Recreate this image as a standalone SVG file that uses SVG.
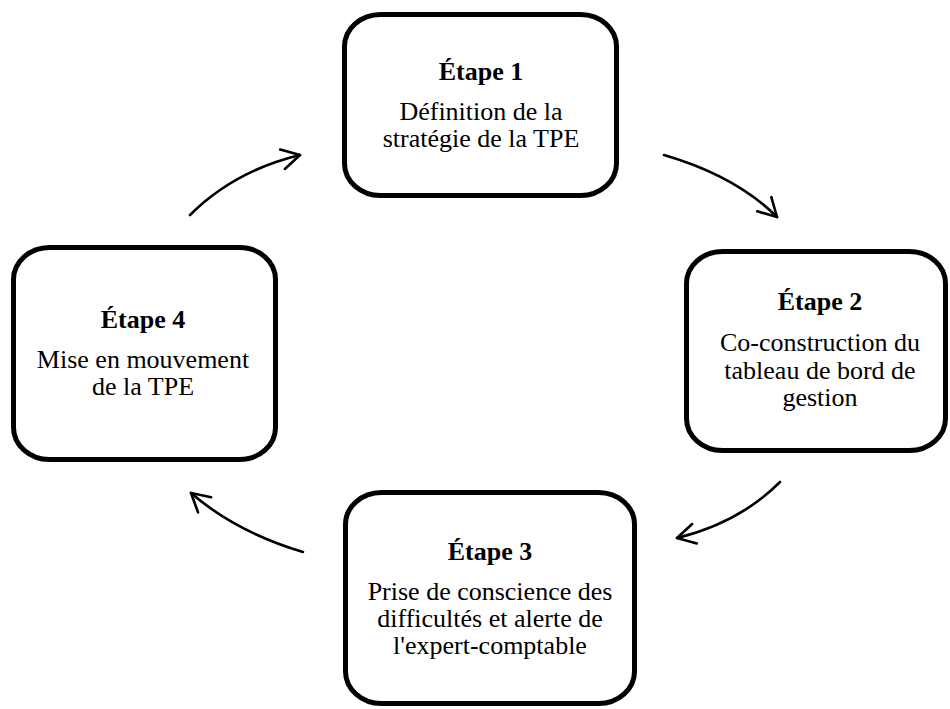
<svg xmlns="http://www.w3.org/2000/svg" width="950" height="709" viewBox="0 0 950 709">
<defs>
<marker id="ah" markerUnits="userSpaceOnUse" markerWidth="30" markerHeight="30" viewBox="-24 -15 30 30" refX="0" refY="0" orient="auto">
<path d="M -18 -10 L 0 0 L -18 10" fill="none" stroke="#000" stroke-width="2.6" stroke-linecap="round" stroke-linejoin="round"/>
</marker>
</defs>
<style>
.box{fill:#fff;stroke:#000;stroke-width:5}
.t{font-family:"Liberation Serif","Times New Roman",serif;font-size:26px;text-anchor:middle;fill:#000}
.b{font-weight:bold}
.c{fill:none;stroke:#000;stroke-width:2.6;stroke-linecap:round;marker-end:url(#ah)}
</style>
<rect width="950" height="709" fill="#fff"/>
<g id="connectors">
<path class="c" d="M 190 215 Q 234 171 300 155"/>
<path class="c" d="M 664 155 Q 736 176 777 217"/>
<path class="c" d="M 780 482 Q 739 523 677 538"/>
<path class="c" d="M 303 552 Q 236 532 191 493"/>
</g>
<g id="etape1">
<rect class="box" x="344.5" y="14.5" width="272" height="181" rx="36" ry="32"/>
<text class="t b" x="481" y="80">Étape 1</text>
<text class="t" x="481" y="120">Définition de la</text>
<text class="t" x="481" y="147">stratégie de la TPE</text>
</g>
<g id="etape2">
<rect class="box" x="686.5" y="251.5" width="259" height="199" rx="36" ry="32"/>
<text class="t b" x="820" y="310">Étape 2</text>
<text class="t" x="820" y="351">Co-construction du</text>
<text class="t" x="820" y="379">tableau de bord de</text>
<text class="t" x="820" y="406">gestion</text>
</g>
<g id="etape3">
<rect class="box" x="345.5" y="492.5" width="289" height="211" rx="36" ry="32"/>
<text class="t b" x="490" y="560">Étape 3</text>
<text class="t" x="490" y="600">Prise de conscience des</text>
<text class="t" x="490" y="627">difficultés et alerte de</text>
<text class="t" x="490" y="654">l'expert-comptable</text>
</g>
<g id="etape4">
<rect class="box" x="13.5" y="247.5" width="262" height="212" rx="36" ry="32"/>
<text class="t b" x="143" y="328">Étape 4</text>
<text class="t" x="143" y="368">Mise en mouvement</text>
<text class="t" x="143" y="395">de la TPE</text>
</g>
</svg>
